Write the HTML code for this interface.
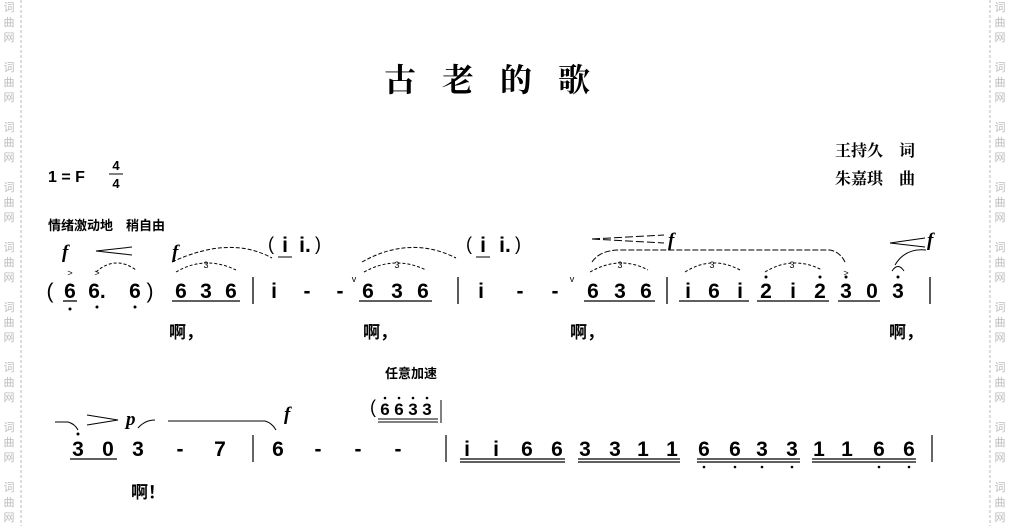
<!DOCTYPE html>
<html><head><meta charset="utf-8"><style>
body{margin:0;background:#fff;}
svg{display:block}
text{font-family:"Liberation Sans","Noto Sans CJK SC",sans-serif;}
.n{font-size:21px;font-weight:bold;text-anchor:middle}
.w{font-size:11px;fill:#bbb;text-anchor:middle;font-family:"Noto Sans CJK SC",sans-serif}
.l{font-size:17px;font-weight:bold;font-family:"Noto Sans CJK SC",sans-serif;text-anchor:middle}
.f{font-family:"Liberation Serif",serif;font-style:italic;font-weight:bold;font-size:19px}
</style></head><body>
<svg width="1010" height="526" viewBox="0 0 1010 526" xmlns="http://www.w3.org/2000/svg">
<line x1="21" y1="0" x2="21" y2="526" stroke="#bbb" stroke-dasharray="3,2"/>
<line x1="990" y1="0" x2="990" y2="526" stroke="#bbb" stroke-dasharray="3,2"/>
<g id="wm">
<text class="w" x="9" y="11">词</text><text class="w" x="9" y="26">曲</text><text class="w" x="9" y="41">网</text>
<text class="w" x="9" y="71">词</text><text class="w" x="9" y="86">曲</text><text class="w" x="9" y="101">网</text>
<text class="w" x="9" y="131">词</text><text class="w" x="9" y="146">曲</text><text class="w" x="9" y="161">网</text>
<text class="w" x="9" y="191">词</text><text class="w" x="9" y="206">曲</text><text class="w" x="9" y="221">网</text>
<text class="w" x="9" y="251">词</text><text class="w" x="9" y="266">曲</text><text class="w" x="9" y="281">网</text>
<text class="w" x="9" y="311">词</text><text class="w" x="9" y="326">曲</text><text class="w" x="9" y="341">网</text>
<text class="w" x="9" y="371">词</text><text class="w" x="9" y="386">曲</text><text class="w" x="9" y="401">网</text>
<text class="w" x="9" y="431">词</text><text class="w" x="9" y="446">曲</text><text class="w" x="9" y="461">网</text>
<text class="w" x="9" y="491">词</text><text class="w" x="9" y="506">曲</text><text class="w" x="9" y="521">网</text>
</g>
<use href="#wm" x="991"/>
<text x="500" y="91" style="font-family:'Noto Serif CJK SC',serif;font-size:32px;font-weight:bold;letter-spacing:26px" text-anchor="middle">古老的歌</text>
<text x="48" y="182" style="font-size:16px;font-weight:bold">1 = F</text>
<text x="116" y="170" class="n" style="font-size:13px">4</text><line x1="109" y1="174" x2="123" y2="174" stroke="#000"/><text x="116" y="188" class="n" style="font-size:13px">4</text>
<text x="835" y="156" style="font-family:'Noto Serif CJK SC',serif;font-size:16px;font-weight:bold">王持久　词</text>
<text x="835" y="184" style="font-family:'Noto Serif CJK SC',serif;font-size:16px;font-weight:bold">朱嘉琪　曲</text>
<text x="48" y="230" style="font-size:13px;font-weight:bold;font-family:'Noto Sans CJK SC',sans-serif">情绪激动地　稍自由</text>
<text class="f" x="62" y="258">f</text>
<path d="M132 247 L96 251 L132 255" fill="none" stroke="#000"/>
<text class="f" x="172" y="258">f</text>
<path d="M172 262 Q230 235 272 258" fill="none" stroke="#000" stroke-dasharray="4,2"/>
<text x="268" y="250" style="font-size:18px">(</text><text class="n" x="285" y="252">i</text><text class="n" x="305" y="252">i.</text><text x="315" y="250" style="font-size:18px">)</text>
<line x1="278" y1="257" x2="292" y2="257" stroke="#000"/>
<path d="M362 262 Q410 235 456 258" fill="none" stroke="#000" stroke-dasharray="4,2"/>
<text x="466" y="250" style="font-size:18px">(</text><text class="n" x="483" y="252">i</text><text class="n" x="505" y="252">i.</text><text x="515" y="250" style="font-size:18px">)</text>
<line x1="476" y1="257" x2="490" y2="257" stroke="#000"/>
<path d="M592 239 L664 235 M592 239 L664 243" stroke="#000" stroke-dasharray="8,3"/>
<text class="f" x="668" y="246">f</text>
<path d="M592 262 Q600 250 620 250 L830 250 Q840 252 845 262" fill="none" stroke="#000" stroke-dasharray="6,2"/>
<path d="M925 238 L890 243 L925 247" fill="none" stroke="#000"/>
<text class="f" x="927" y="246">f</text>
<path d="M895 265 Q905 248 926 250" fill="none" stroke="#000"/>
<g fill="none" stroke="#000" stroke-dasharray="3,2">
<path d="M96 272 Q115 255 136 270"/>
<path d="M176 272 Q205 255 236 270"/><path d="M364 272 Q395 255 426 270"/>
<path d="M590 272 Q620 255 648 270"/><path d="M685 272 Q712 255 740 270"/><path d="M765 272 Q793 255 822 270"/>
</g>
<g style="font-size:9px" text-anchor="middle"><text x="206" y="268">3</text><text x="397" y="268">3</text><text x="620" y="268">3</text><text x="712" y="268">3</text><text x="792" y="268">3</text>
<text x="70" y="276">&gt;</text><text x="97" y="276">&gt;</text><text x="846" y="276">&gt;</text></g>
<g class="n">
<text x="50" y="298" style="font-weight:normal">(</text>
<text x="70" y="298">6</text><text x="97" y="298">6.</text><text x="135" y="298">6</text>
<text x="150" y="298" style="font-weight:normal">)</text>
<text x="181" y="298">6</text><text x="206" y="298">3</text><text x="231" y="298">6</text>
<text x="274" y="298">i</text><text x="307" y="298">-</text><text x="340" y="298">-</text>
<text x="368" y="298">6</text><text x="397" y="298">3</text><text x="423" y="298">6</text>
<text x="481" y="298">i</text><text x="520" y="298">-</text><text x="555" y="298">-</text>
<text x="593" y="298">6</text><text x="620" y="298">3</text><text x="646" y="298">6</text>
<text x="688" y="298">i</text><text x="714" y="298">6</text><text x="740" y="298">i</text>
<text x="766" y="298">2</text><text x="793" y="298">i</text><text x="820" y="298">2</text>
<text x="846" y="298">3</text><text x="872" y="298">0</text><text x="898" y="298">3</text>
</g>
<g style="font-size:9px" text-anchor="middle"><text x="354" y="282">v</text><text x="572" y="282">v</text></g>
<g fill="#000">
<circle cx="70" cy="309" r="1.5"/><circle cx="97" cy="307" r="1.5"/><circle cx="135" cy="307" r="1.5"/>
<circle cx="766" cy="277" r="1.5"/><circle cx="820" cy="277" r="1.5"/><circle cx="846" cy="277" r="1.5"/><circle cx="898" cy="277" r="1.5"/>
</g>
<path d="M892 271 Q898 262 904 271" fill="none" stroke="#000"/>
<g stroke="#000" stroke-width="1.3">
<line x1="63" y1="301" x2="77" y2="301"/>
<line x1="172" y1="301" x2="240" y2="301"/><line x1="359" y1="301" x2="432" y2="301"/>
<line x1="584" y1="301" x2="655" y2="301"/><line x1="679" y1="301" x2="749" y2="301"/>
<line x1="757" y1="301" x2="829" y2="301"/><line x1="838" y1="301" x2="880" y2="301"/>
<line x1="253" y1="277" x2="253" y2="304"/><line x1="458" y1="277" x2="458" y2="304"/>
<line x1="667" y1="277" x2="667" y2="304"/><line x1="930" y1="277" x2="930" y2="304"/>
</g>
<g class="l"><text x="186" y="338">啊，</text><text x="380" y="338">啊，</text><text x="587" y="338">啊，</text><text x="906" y="338">啊，</text></g>
<text x="385" y="378" style="font-size:13px;font-weight:bold;font-family:'Noto Sans CJK SC',sans-serif">任意加速</text>
<text x="370" y="413" style="font-size:18px">(</text>
<g class="n" style="font-size:17px"><text x="385" y="415">6</text><text x="399" y="415">6</text><text x="413" y="415">3</text><text x="427" y="415">3</text></g>
<g fill="#000"><circle cx="385" cy="398" r="1.3"/><circle cx="399" cy="398" r="1.3"/><circle cx="413" cy="398" r="1.3"/><circle cx="427" cy="398" r="1.3"/></g>
<line x1="378" y1="419" x2="438" y2="419" stroke="#000"/><line x1="378" y1="422" x2="438" y2="422" stroke="#000"/>
<line x1="441" y1="400" x2="441" y2="423" stroke="#000"/>
<path d="M55 422 L68 422 Q75 424 78 430" fill="none" stroke="#000"/>
<path d="M87 415 L118 420 L87 425" fill="none" stroke="#000"/>
<text class="f" x="126" y="425">p</text>
<path d="M138 428 Q145 420 155 420" fill="none" stroke="#000"/>
<path d="M168 421 L265 421 Q272 423 276 430" fill="none" stroke="#000"/>
<text class="f" x="284" y="420">f</text>
<g class="n">
<text x="78" y="456">3</text><text x="108" y="456">0</text><text x="138" y="456">3</text><text x="180" y="456">-</text><text x="220" y="456">7</text>
<text x="278" y="456">6</text><text x="318" y="456">-</text><text x="358" y="456">-</text><text x="398" y="456">-</text>
<text x="467" y="456">i</text><text x="496" y="456">i</text><text x="527" y="456">6</text><text x="557" y="456">6</text>
<text x="585" y="456">3</text><text x="615" y="456">3</text><text x="643" y="456">1</text><text x="672" y="456">1</text>
<text x="704" y="456">6</text><text x="735" y="456">6</text><text x="762" y="456">3</text><text x="792" y="456">3</text>
<text x="819" y="456">1</text><text x="847" y="456">1</text><text x="879" y="456">6</text><text x="909" y="456">6</text>
</g>
<circle cx="78" cy="434" r="1.5"/>
<g stroke="#000" stroke-width="1.2">
<line x1="70" y1="459" x2="117" y2="459"/>
<line x1="460" y1="459" x2="565" y2="459"/><line x1="460" y1="462" x2="565" y2="462"/>
<line x1="578" y1="459" x2="680" y2="459"/><line x1="578" y1="462" x2="680" y2="462"/>
<line x1="697" y1="459" x2="800" y2="459"/><line x1="697" y1="462" x2="800" y2="462"/>
<line x1="812" y1="459" x2="916" y2="459"/><line x1="812" y1="462" x2="916" y2="462"/>
<line x1="253" y1="435" x2="253" y2="462"/><line x1="446" y1="435" x2="446" y2="462"/><line x1="932" y1="435" x2="932" y2="462"/>
</g>
<g fill="#000"><circle cx="704" cy="467" r="1.3"/><circle cx="735" cy="467" r="1.3"/><circle cx="762" cy="467" r="1.3"/><circle cx="792" cy="467" r="1.3"/><circle cx="879" cy="467" r="1.3"/><circle cx="909" cy="467" r="1.3"/></g>
<text class="l" x="148" y="498">啊！</text>
</svg>
</body></html>
